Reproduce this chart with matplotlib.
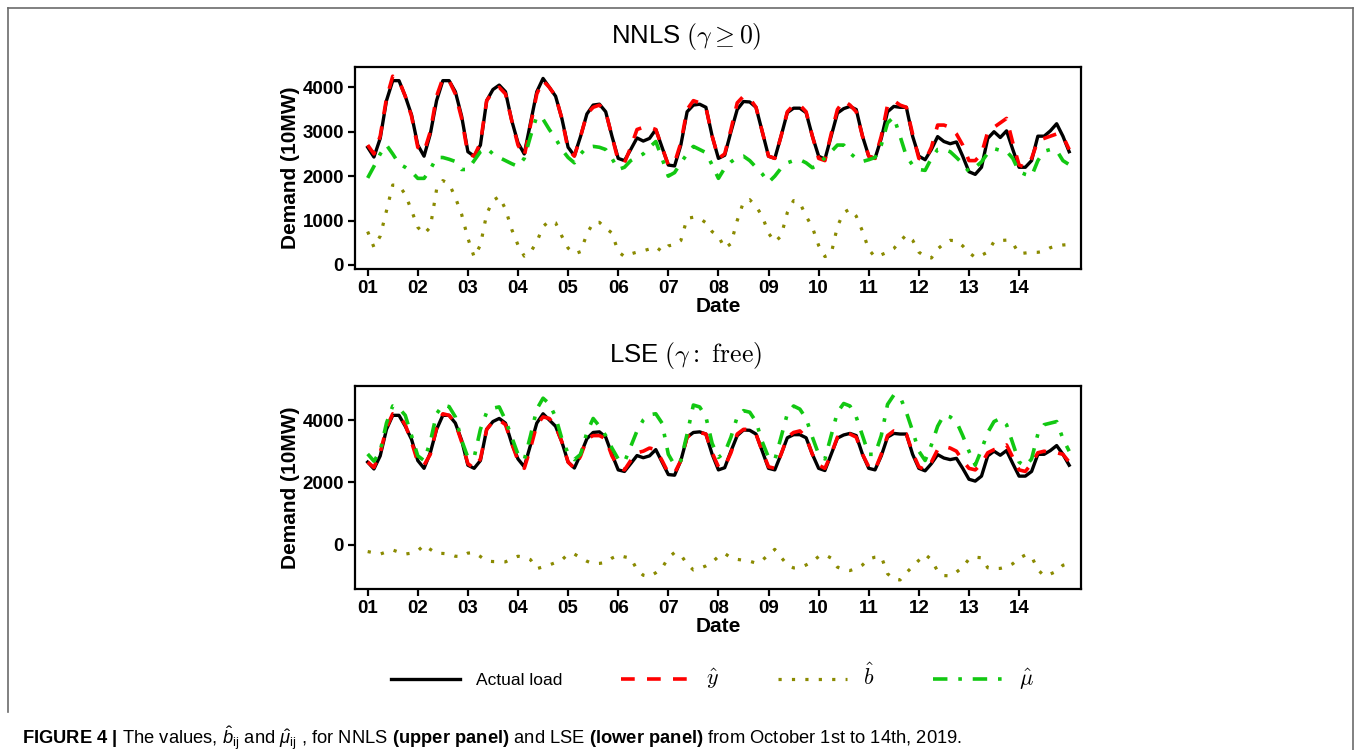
import matplotlib
matplotlib.use("Agg")
import matplotlib.pyplot as plt
from matplotlib.lines import Line2D
import numpy as np

plt.rcParams['font.family'] = ['Liberation Sans', 'DejaVu Sans']
plt.rcParams['mathtext.fontset'] = 'custom'
plt.rcParams['mathtext.rm'] = 'Liberation Sans'
plt.rcParams['mathtext.it'] = 'Liberation Sans:italic'
plt.rcParams['mathtext.bf'] = 'Liberation Sans:bold'
plt.rcParams['lines.solid_joinstyle'] = 'round'
plt.rcParams['lines.dash_joinstyle'] = 'round'

# 3-hourly values, Oct 1 00:00 .. Oct 15 00:00 (8 per day)
actual_load = [
    2650, 2430, 2850, 3700, 4150, 4150, 3800, 3380,
    2700, 2450, 2950, 3700, 4150, 4150, 3900, 3350,
    2550, 2450, 2700, 3700, 3950, 4050, 3900, 3250,
    2750, 2500, 3200, 3900, 4200, 4000, 3800, 3300,
    2650, 2460, 2900, 3400, 3600, 3620, 3450, 2900,
    2400, 2350, 2600, 2860, 2790, 2850, 3050, 2650,
    2250, 2230, 2700, 3450, 3600, 3620, 3550, 2900,
    2400, 2470, 3000, 3500, 3680, 3670, 3550, 3000,
    2450, 2400, 2900, 3430, 3530, 3530, 3430, 2900,
    2450, 2380, 2900, 3420, 3520, 3570, 3500, 2900,
    2450, 2400, 2850, 3450, 3570, 3550, 3550, 2900,
    2450, 2370, 2600, 2890, 2780, 2730, 2770, 2450,
    2100, 2040, 2200, 2850, 3000, 2870, 3020, 2600,
    2200, 2200, 2350, 2900, 2900, 3020, 3180, 2900,
    2550]

yhat_nnls = [
    2700, 2500, 2900, 3750, 4250, 4150, 3800, 3350,
    2650, 2550, 3000, 3800, 4200, 4150, 3850, 3300,
    2500, 2450, 2750, 3700, 3900, 4000, 3850, 3250,
    2700, 2450, 3150, 3850, 4150, 4000, 3800, 3300,
    2600, 2450, 2900, 3400, 3550, 3600, 3450, 2900,
    2350, 2300, 2650, 3050, 3100, 3100, 3050, 2650,
    2250, 2300, 2750, 3500, 3700, 3650, 3550, 2900,
    2400, 2500, 3050, 3650, 3800, 3750, 3550, 3000,
    2450, 2400, 2900, 3450, 3600, 3600, 3450, 2900,
    2400, 2350, 2950, 3500, 3700, 3600, 3450, 2900,
    2450, 2400, 2900, 3600, 3700, 3600, 3550, 2950,
    2400, 2350, 2650, 3150, 3150, 3100, 2950, 2700,
    2350, 2350, 2500, 3000, 3100, 3200, 3300, 2750,
    2250, 2200, 2400, 2800, 2850, 2900, 2950, 2900,
    2600]

bhat_nnls = [
    753, 400, 650, 1220, 1800, 1790, 1590, 1230,
    850, 700, 850, 1700, 1900, 1830, 1520, 1140,
    603, 180, 450, 1150, 1450, 1540, 1260, 800,
    450, 200, 290, 520, 866, 990, 950, 650,
    380, 250, 300, 700, 950, 960, 830, 720,
    300, 190, 250, 290, 320, 360, 410, 300,
    430, 460, 550, 1050, 1075, 1050, 950, 750,
    650, 377, 480, 1000, 1420, 1470, 1320, 1100,
    716, 520, 650, 1180, 1450, 1400, 1100, 850,
    440, 190, 250, 870, 1180, 1260, 1100, 760,
    350, 180, 230, 290, 370, 530, 680, 560,
    290, 190, 158, 360, 480, 555, 545, 430,
    280, 170, 220, 290, 527, 550, 560, 490,
    256, 270, 286, 286, 310, 390, 430, 450,
    460]

muhat_nnls = [
    1960, 2220, 2500, 2700, 2500, 2280, 2200, 2100,
    1950, 1950, 2150, 2420, 2420, 2380, 2330, 2150,
    2150, 2350, 2550, 2630, 2500, 2420, 2350, 2280,
    2220, 2400, 2900, 3350, 3280, 3050, 2850, 2600,
    2420, 2300, 2500, 2650, 2670, 2650, 2600, 2400,
    2150, 2200, 2350, 2430, 2500, 2650, 2780, 2400,
    2000, 2080, 2300, 2500, 2670, 2600, 2530, 2250,
    1950, 2180, 2320, 2420, 2450, 2350, 2200, 2050,
    1860, 2000, 2180, 2300, 2350, 2370, 2300, 2190,
    2250, 2420, 2550, 2700, 2700, 2520, 2400, 2330,
    2370, 2420, 2700, 3200, 3330, 2900, 2450, 2250,
    2150, 2130, 2400, 2600, 2600, 2550, 2420, 2280,
    2100, 2200, 2320, 2520, 2620, 2580, 2560, 2400,
    2100, 2040, 2000, 2350, 2560, 2600, 2580, 2350,
    2260]

yhat_lse = [
    2650, 2480, 2950, 3750, 4200, 4150, 3850, 3300,
    2650, 2550, 2900, 3750, 4200, 4150, 3900, 3300,
    2600, 2450, 2750, 3700, 3950, 4000, 3850, 3250,
    2700, 2450, 3100, 3850, 4100, 4050, 3800, 3300,
    2650, 2450, 2850, 3400, 3500, 3500, 3400, 2850,
    2500, 2400, 2700, 2950, 3000, 3100, 3050, 2700,
    2300, 2300, 2700, 3450, 3600, 3600, 3550, 2950,
    2500, 2500, 2950, 3550, 3700, 3700, 3550, 3000,
    2500, 2450, 2900, 3450, 3600, 3650, 3450, 2900,
    2550, 2450, 2900, 3450, 3600, 3550, 3450, 2900,
    2500, 2400, 2900, 3500, 3650, 3600, 3550, 2950,
    2500, 2400, 2650, 3050, 3150, 3100, 3000, 2700,
    2450, 2400, 2600, 2950, 3050, 3100, 3200, 2800,
    2400, 2350, 2600, 2950, 3000, 2950, 2950, 2900,
    2650]

bhat_lse = [
    -220, -260, -300, -230, -170, -240, -300, -270,
    -200, -10, -150, -280, -280, -300, -370, -380,
    -270, -250, -380, -525, -540, -545, -550, -450,
    -370, -400, -480, -770, -710, -650, -570, -490,
    -300, -300, -420, -530, -610, -600, -570, -430,
    -340, -390, -430, -800, -980, -1020, -900, -750,
    -416, -250, -330, -620, -810, -760, -680, -560,
    -380, -280, -420, -470, -500, -530, -590, -500,
    -320, -150, -400, -650, -745, -735, -650, -540,
    -380, -320, -430, -720, -800, -830, -760, -650,
    -460, -400, -380, -930, -1110, -1130, -900, -700,
    -500, -310, -480, -850, -990, -1000, -880, -720,
    -460, -400, -420, -740, -770, -760, -710, -610,
    -437, -330, -380, -800, -1000, -940, -850, -660,
    -600]

muhat_lse = [
    2910, 2680, 3000, 3900, 4450, 4380, 4150, 3500,
    2850, 2700, 3300, 4200, 4480, 4430, 4100, 3350,
    2800, 2800, 3700, 4250, 4380, 4420, 4000, 3450,
    2900, 2720, 3500, 4350, 4700, 4520, 4100, 3400,
    2930, 2730, 2900, 3600, 4050, 3800, 3500, 3100,
    2750, 2650, 3150, 3650, 4000, 4170, 4200, 3900,
    2900, 2550, 2700, 3550, 4480, 4420, 4100, 3250,
    2800, 2950, 3450, 4100, 4300, 4250, 3950, 3300,
    2800, 2720, 3450, 4200, 4450, 4350, 4050, 3450,
    2900, 2750, 3500, 4250, 4530, 4450, 4100, 3500,
    2900, 2900, 3500, 4500, 4800, 4750, 4250, 3650,
    3000, 2700, 3200, 3800, 4160, 4100, 3950, 3500,
    3000, 2550, 3050, 3600, 3950, 4050, 3850, 3250,
    2650, 2520, 2750, 3550, 3850, 3900, 3950, 3400,
    3000]

day_ticks = list(range(1, 15))
day_labels = ["%02d" % d for d in day_ticks]

x_day = 1 + np.arange(len(actual_load)) * 3 / 24.0

C_BLACK = 'black'
C_RED = '#FF0000'
C_OLIVE = '#8A8A00'
C_GREEN = '#12C812'

fig = plt.figure(figsize=(13.56, 7.5), dpi=100)
W, H = 1356.0, 750.0


def panel(rect, yhat, bhat, muhat, ylim, yticks):
    ax = fig.add_axes(rect)
    ax.plot(x_day, actual_load, color=C_BLACK, lw=2.4, label='Actual load')
    ax.plot(x_day, yhat, color=C_RED, lw=2.6, linestyle=(0, (3.8, 3.4)), label=r'$\hat{y}$')
    ax.plot(x_day, bhat, color=C_OLIVE, lw=2.3, linestyle=(0, (1, 3.2)), label=r'$\hat{b}$')
    ax.plot(x_day, muhat, color=C_GREEN, lw=2.6, linestyle=(0, (4, 3, 1, 3)), label=r'$\hat{\mu}$')
    ax.set_xlim(0.747, 15.23)
    ax.set_ylim(*ylim)
    ax.set_xticks(day_ticks)
    ax.set_xticklabels(day_labels)
    ax.set_yticks(yticks)
    for s in ax.spines.values():
        s.set_linewidth(1.6)
    ax.tick_params(direction='out', length=5, width=1.6, labelsize=13.5, pad=3)
    for t in ax.get_xticklabels() + ax.get_yticklabels():
        t.set_fontweight('bold')
    ax.set_xlabel('Date', fontsize=15, fontweight='bold', labelpad=0)
    ax.set_ylabel('Demand (10MW)', fontsize=15, fontweight='bold', labelpad=2)
    return ax


ax1 = panel([355 / W, 1 - 269.3 / H, 725.7 / W, 202.6 / H],
            yhat_nnls, bhat_nnls, muhat_nnls, (-97, 4464), [0, 1000, 2000, 3000, 4000])
ax2 = panel([355 / W, 1 - 589 / H, 725.7 / W, 203 / H],
            yhat_lse, bhat_lse, muhat_lse, (-1421, 5091), [0, 2000, 4000])

fig.text(686 / W, 1 - 37 / H, r'NNLS $(\gamma \geq \mathbf{0})$', ha='center', va='center',
         fontsize=18.5, math_fontfamily='cm')
fig.text(685 / W, 1 - 355 / H, r'LSE $(\gamma{:}\ \mathrm{free})$', ha='center', va='center',
         fontsize=18.5, math_fontfamily='cm')

handles, labels = ax1.get_legend_handles_labels()
leg = fig.legend(handles, labels, loc='center', bbox_to_anchor=(712 / W, 1 - 678 / H),
                 ncol=4, frameon=False, fontsize=12.5, handlelength=4.0,
                 handletextpad=0.9, columnspacing=3.4)
for i, t in enumerate(leg.get_texts()):
    if i > 0:
        t.set_math_fontfamily('cm')
        t.set_fontsize(16)

caption = (r"$\mathbf{FIGURE\ 4\ |}$ The values, $\hat{b}_{\mathrm{ij}}$ and "
           r"$\hat{\mu}_{\mathrm{ij}}$ , for NNLS $\mathbf{(upper\ panel)}$ and LSE "
           r"$\mathbf{(lower\ panel)}$ from October 1st to 14th, 2019.")
fig.text(22 / W, 1 - 738 / H, caption, ha='left', va='center', fontsize=13.2)

# page frame
fc = '#6b6b6b'
fig.add_artist(Line2D([8 / W, 8 / W], [1 - 8 / H, 1 - 712 / H], color=fc, lw=1.2))
fig.add_artist(Line2D([8 / W, 1353 / W], [1 - 8 / H, 1 - 8 / H], color=fc, lw=1.2))
fig.add_artist(Line2D([1353 / W, 1353 / W], [1 - 8 / H, 0], color=fc, lw=1.2))

fig.savefig('out.png', dpi=100)
